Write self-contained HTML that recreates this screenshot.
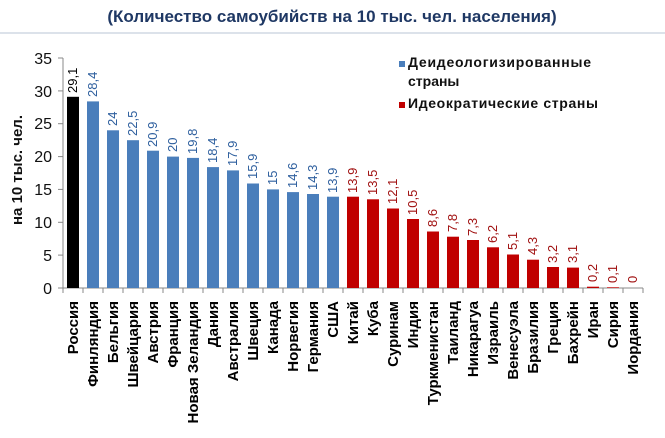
<!DOCTYPE html>
<html><head><meta charset="utf-8"><style>
body{margin:0;background:#fff;}
svg{display:block;font-family:"Liberation Sans","DejaVu Sans",sans-serif;}
.c{font-size:15px;font-weight:bold;fill:#000;}
.vb{font-size:13px;fill:#2e5f9e;}
.vr{font-size:13px;fill:#a01010;}
.yt{font-size:16px;fill:#111;}
</style></head><body>
<svg width="665" height="438" viewBox="0 0 665 438">
<text x="332" y="22" text-anchor="middle" font-size="17" font-weight="bold" fill="#1f3864">(Количество самоубийств на 10 тыс. чел. населения)</text>
<line x1="0" y1="33" x2="665" y2="33" stroke="#b8c4d6" stroke-width="1"/>
<text transform="rotate(-90 22 170)" x="22" y="170" text-anchor="middle" font-size="15" font-weight="bold" fill="#111">на 10 тыс. чел.</text>
<g class="yt" text-anchor="end">
<text x="52" y="294">0</text><text x="52" y="261">5</text><text x="52" y="228">10</text><text x="52" y="195">15</text><text x="52" y="162">20</text><text x="52" y="129">25</text><text x="52" y="97">30</text><text x="52" y="64">35</text>
</g>
<g stroke="#888" stroke-width="1">
<line x1="63" y1="58" x2="63" y2="288"/>
<line x1="58" y1="288" x2="63" y2="288"/><line x1="58" y1="255.1" x2="63" y2="255.1"/><line x1="58" y1="222.3" x2="63" y2="222.3"/><line x1="58" y1="189.4" x2="63" y2="189.4"/><line x1="58" y1="156.6" x2="63" y2="156.6"/><line x1="58" y1="123.7" x2="63" y2="123.7"/><line x1="58" y1="90.9" x2="63" y2="90.9"/><line x1="58" y1="58" x2="63" y2="58"/>
<line x1="63" y1="288" x2="643" y2="288"/>
<path d="M63 288v5M83 288v5M103 288v5M123 288v5M143 288v5M163 288v5M183 288v5M203 288v5M223 288v5M243 288v5M263 288v5M283 288v5M303 288v5M323 288v5M343 288v5M363 288v5M383 288v5M403 288v5M423 288v5M443 288v5M463 288v5M483 288v5M503 288v5M523 288v5M543 288v5M563 288v5M583 288v5M603 288v5M623 288v5M643 288v5"/>
</g>
<g>
<rect x="67" y="96.8" width="12" height="191.2" fill="#000"/>
<g fill="#4a7ebb">
<rect x="87" y="101.4" width="12" height="186.6"/><rect x="107" y="130.3" width="12" height="157.7"/><rect x="127" y="140.2" width="12" height="147.8"/><rect x="147" y="150.7" width="12" height="137.3"/><rect x="167" y="156.6" width="12" height="131.4"/><rect x="187" y="157.9" width="12" height="130.1"/><rect x="207" y="167.1" width="12" height="120.9"/><rect x="227" y="170.4" width="12" height="117.6"/><rect x="247" y="183.5" width="12" height="104.5"/><rect x="267" y="189.4" width="12" height="98.6"/><rect x="287" y="192.1" width="12" height="95.9"/><rect x="307" y="194" width="12" height="94"/><rect x="327" y="196.7" width="12" height="91.3"/>
</g>
<g fill="#c00000">
<rect x="347" y="196.7" width="12" height="91.3"/><rect x="367" y="199.3" width="12" height="88.7"/><rect x="387" y="208.5" width="12" height="79.5"/><rect x="407" y="219" width="12" height="69"/><rect x="427" y="231.5" width="12" height="56.5"/><rect x="447" y="236.7" width="12" height="51.3"/><rect x="467" y="240" width="12" height="48"/><rect x="487" y="247.3" width="12" height="40.7"/><rect x="507" y="254.5" width="12" height="33.5"/><rect x="527" y="259.7" width="12" height="28.3"/><rect x="547" y="267" width="12" height="21"/><rect x="567" y="267.6" width="12" height="20.4"/><rect x="587" y="286.7" width="12" height="1.3"/><rect x="607" y="287.3" width="12" height="0.7"/>
</g>
</g>
<g>
<text class="vb" style="fill:#000" transform="rotate(-90 77 93)" x="77" y="93">29,1</text>
<text class="vb" transform="rotate(-90 97 97)" x="97" y="97">28,4</text>
<text class="vb" transform="rotate(-90 117 126)" x="117" y="126">24</text>
<text class="vb" transform="rotate(-90 137 136)" x="137" y="136">22,5</text>
<text class="vb" transform="rotate(-90 157 147)" x="157" y="147">20,9</text>
<text class="vb" transform="rotate(-90 177 152)" x="177" y="152">20</text>
<text class="vb" transform="rotate(-90 197 154)" x="197" y="154">19,8</text>
<text class="vb" transform="rotate(-90 217 163)" x="217" y="163">18,4</text>
<text class="vb" transform="rotate(-90 237 166)" x="237" y="166">17,9</text>
<text class="vb" transform="rotate(-90 257 179)" x="257" y="179">15,9</text>
<text class="vb" transform="rotate(-90 277 185)" x="277" y="185">15</text>
<text class="vb" transform="rotate(-90 297 188)" x="297" y="188">14,6</text>
<text class="vb" transform="rotate(-90 317 190)" x="317" y="190">14,3</text>
<text class="vb" transform="rotate(-90 337 193)" x="337" y="193">13,9</text>
<text class="vr" transform="rotate(-90 357 193)" x="357" y="193">13,9</text>
<text class="vr" transform="rotate(-90 377 195)" x="377" y="195">13,5</text>
<text class="vr" transform="rotate(-90 397 204)" x="397" y="204">12,1</text>
<text class="vr" transform="rotate(-90 417 215)" x="417" y="215">10,5</text>
<text class="vr" transform="rotate(-90 437 227)" x="437" y="227">8,6</text>
<text class="vr" transform="rotate(-90 457 232)" x="457" y="232">7,8</text>
<text class="vr" transform="rotate(-90 477 236)" x="477" y="236">7,3</text>
<text class="vr" transform="rotate(-90 497 243)" x="497" y="243">6,2</text>
<text class="vr" transform="rotate(-90 517 250)" x="517" y="250">5,1</text>
<text class="vr" transform="rotate(-90 537 255)" x="537" y="255">4,3</text>
<text class="vr" transform="rotate(-90 557 263)" x="557" y="263">3,2</text>
<text class="vr" transform="rotate(-90 577 263)" x="577" y="263">3,1</text>
<text class="vr" transform="rotate(-90 597 282)" x="597" y="282">0,2</text>
<text class="vr" transform="rotate(-90 617 283)" x="617" y="283">0,1</text>
<text class="vr" transform="rotate(-90 637 283)" x="637" y="283">0</text>
</g>
<g class="c" text-anchor="end">
<text transform="rotate(-90 78 301)" x="78" y="301">Россия</text>
<text transform="rotate(-90 98 301)" x="98" y="301">Финляндия</text>
<text transform="rotate(-90 118 301)" x="118" y="301">Бельгия</text>
<text transform="rotate(-90 138 301)" x="138" y="301">Швейцария</text>
<text transform="rotate(-90 158 301)" x="158" y="301">Австрия</text>
<text transform="rotate(-90 178 301)" x="178" y="301">Франция</text>
<text transform="rotate(-90 198 301)" x="198" y="301">Новая Зеландия</text>
<text transform="rotate(-90 218 301)" x="218" y="301">Дания</text>
<text transform="rotate(-90 238 301)" x="238" y="301">Австралия</text>
<text transform="rotate(-90 258 301)" x="258" y="301">Швеция</text>
<text transform="rotate(-90 278 301)" x="278" y="301">Канада</text>
<text transform="rotate(-90 298 301)" x="298" y="301">Норвегия</text>
<text transform="rotate(-90 318 301)" x="318" y="301">Германия</text>
<text transform="rotate(-90 338 301)" x="338" y="301">США</text>
<text transform="rotate(-90 358 301)" x="358" y="301">Китай</text>
<text transform="rotate(-90 378 301)" x="378" y="301">Куба</text>
<text transform="rotate(-90 398 301)" x="398" y="301">Суринам</text>
<text transform="rotate(-90 418 301)" x="418" y="301">Индия</text>
<text transform="rotate(-90 438 301)" x="438" y="301">Туркменистан</text>
<text transform="rotate(-90 458 301)" x="458" y="301">Таиланд</text>
<text transform="rotate(-90 478 301)" x="478" y="301">Никарагуа</text>
<text transform="rotate(-90 498 301)" x="498" y="301">Израиль</text>
<text transform="rotate(-90 518 301)" x="518" y="301">Венесуэла</text>
<text transform="rotate(-90 538 301)" x="538" y="301">Бразилия</text>
<text transform="rotate(-90 558 301)" x="558" y="301">Греция</text>
<text transform="rotate(-90 578 301)" x="578" y="301">Бахрейн</text>
<text transform="rotate(-90 598 301)" x="598" y="301">Иран</text>
<text transform="rotate(-90 618 301)" x="618" y="301">Сирия</text>
<text transform="rotate(-90 638 301)" x="638" y="301">Иордания</text>
</g>
<rect x="399" y="61" width="6" height="6" fill="#4a7ebb"/>
<text x="408" y="67" font-size="14" font-weight="bold" fill="#111" textLength="183">Деидеологизированные</text>
<text x="408" y="86" font-size="14" font-weight="bold" fill="#111">страны</text>
<rect x="399" y="102" width="6" height="6" fill="#c00000"/>
<text x="408" y="108" font-size="14" font-weight="bold" fill="#111" textLength="190">Идеократические страны</text>
</svg>
</body></html>
